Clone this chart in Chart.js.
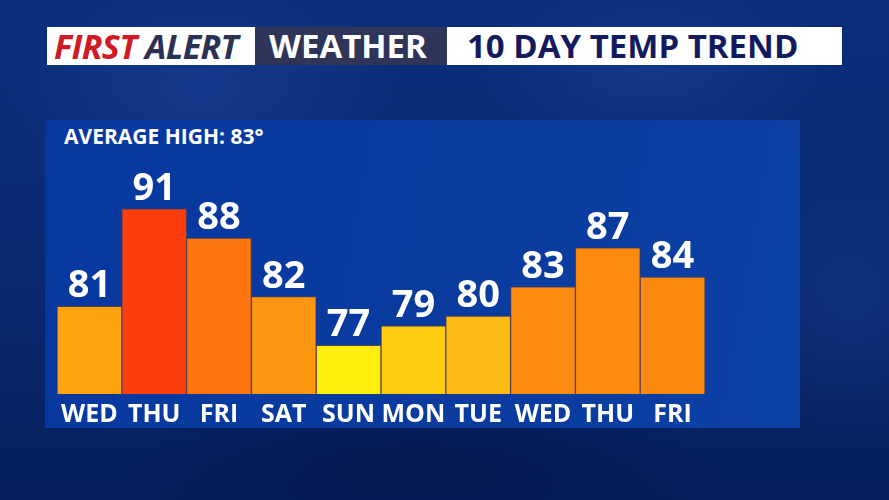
<!DOCTYPE html>
<html>
<head>
<meta charset="utf-8">
<script src="https://cdn.jsdelivr.net/npm/chart.js@4"></script>
<style>
    html, body {
        margin: 0;
        padding: 0;
    }
    #stage {
        position: relative;
        width: 889px;
        height: 500px;
        overflow: hidden;
        font-family: "Open Sans", sans-serif;
        font-weight: bold;
        background:
            radial-gradient(ellipse 300px 160px at 200px 90px, rgba(40,80,170,0.35), rgba(40,80,170,0) 70%),
            radial-gradient(ellipse 260px 140px at 650px 70px, rgba(40,80,170,0.30), rgba(40,80,170,0) 70%),
            radial-gradient(ellipse 200px 200px at 850px 300px, rgba(30,70,160,0.30), rgba(30,70,160,0) 70%),
            radial-gradient(ellipse 420px 120px at 420px 470px, rgba(5,20,70,0.6), rgba(5,20,70,0) 70%),
            linear-gradient(180deg, #0b2e7c 0%, #0a2a72 50%, #071f5c 100%);
    }
    .box {
        position: absolute;
        top: 27px;
        height: 38px;
        line-height: 38px;
        white-space: nowrap;
    }
    #boxFirst { left: 47px; width: 208px; background: #ffffff; font-style: italic; font-size: 34px; letter-spacing: -0.6px; }
    #boxFirst .red { color: #d01a26; padding-left: 7px; }
    #boxFirst .navy { color: #2b3152; }
    #boxWeather { left: 255px; width: 192px; background: #2e3558; color: #ffffff; font-size: 33px; }
    #boxWeather span { padding-left: 14px; }
    #boxTrend { left: 447px; width: 395px; background: #ffffff; color: #131b5e; font-size: 33px; }
    #boxTrend span { padding-left: 20px; }
    #panel {
        position: absolute;
        left: 45px;
        top: 120px;
        width: 755px;
        height: 308px;
        background: linear-gradient(100deg, #0738a0 0%, #0a3b9e 60%, #0c41a6 100%);
    }
    #avg {
        position: absolute;
        left: 64px;
        top: 122px;
        color: #ffffff;
        font-size: 21px;
        line-height: 28px;
    }
    #chart {
        position: absolute;
        left: 0;
        top: 0;
    }
</style>
</head>
<body>
<div id="stage">
    <div class="box" id="boxFirst"><span class="red">FIRST</span> <span class="navy">ALERT</span></div>
    <div class="box" id="boxWeather"><span>WEATHER</span></div>
    <div class="box" id="boxTrend"><span>10 DAY TEMP TREND</span></div>
    <div id="panel"></div>
    <div id="avg">AVERAGE HIGH: 83°</div>
    <canvas id="chart" width="889" height="500"></canvas>
</div>
<script>
const days = ["WED", "THU", "FRI", "SAT", "SUN", "MON", "TUE", "WED", "THU", "FRI"]
const highs = [81, 91, 88, 82, 77, 79, 80, 83, 87, 84]
const barColors = ["#fea40e", "#fc3e0d", "#fd760f", "#fd9711", "#fdef0b", "#fdcc11", "#fdbb13", "#fd8d12", "#fd8b10", "#fd8a10"]
const axisMin = 72
const axisMax = 100

// numbers sitting above each bar
const valueLabels = {
    id: "valueLabels",
    afterDatasetsDraw(chart) {
        const ctx = chart.ctx
        const meta = chart.getDatasetMeta(0)
        ctx.save()
        ctx.fillStyle = "#ffffff"
        ctx.font = "bold 38px 'Open Sans'"
        ctx.textAlign = "center"
        ctx.textBaseline = "alphabetic"
        meta.data.forEach((bar, i) => {
            ctx.fillText(String(highs[i]), bar.x, bar.y - 9)
        })
        ctx.restore()
    }
}

new Chart(document.getElementById("chart").getContext("2d"), {
    type: "bar",
    data: {
        labels: days,
        datasets: [{
            data: highs,
            backgroundColor: barColors,
            borderColor: "rgba(150,70,20,0.55)",
            borderWidth: 1,
            categoryPercentage: 1,
            barPercentage: 1,
        }]
    },
    options: {
        responsive: false,
        animation: false,
        layout: {
            padding: { left: 57, right: 184, top: 121, bottom: 64 }
        },
        plugins: {
            legend: { display: false },
            tooltip: { enabled: false },
        },
        scales: {
            y: {
                display: false,
                min: axisMin,
                max: axisMax,
            },
            x: {
                grid: { display: false, drawTicks: false },
                border: { display: false },
                ticks: {
                    color: "#ffffff",
                    padding: 6,
                    maxRotation: 0,
                    minRotation: 0,
                    autoSkip: false,
                    font: { family: "'Open Sans'", weight: "bold", size: 25 },
                },
            },
        },
    },
    plugins: [valueLabels],
})
</script>
</body>
</html>
